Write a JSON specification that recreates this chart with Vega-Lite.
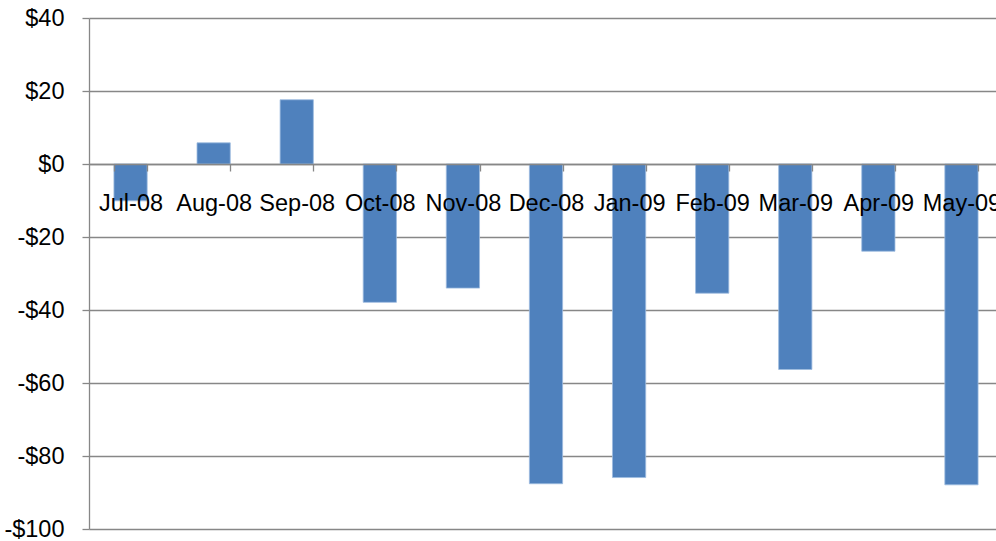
{
  "$schema": "https://vega.github.io/schema/vega-lite/v6.json",
  "autosize": {"type": "none"},
  "padding": {"left": 89, "top": 18, "right": 0, "bottom": 12},
  "width": 907,
  "height": 511,
  "background": "white",
  "data": {
    "values": [
      {"month": "Jul-08", "value": -10.1},
      {"month": "Aug-08", "value": 5.8},
      {"month": "Sep-08", "value": 17.6},
      {"month": "Oct-08", "value": -37.9},
      {"month": "Nov-08", "value": -34.0},
      {"month": "Dec-08", "value": -87.6},
      {"month": "Jan-09", "value": -85.9},
      {"month": "Feb-09", "value": -35.4},
      {"month": "Mar-09", "value": -56.3},
      {"month": "Apr-09", "value": -23.9},
      {"month": "May-09", "value": -87.9}
    ]
  },
  "mark": {"type": "bar", "color": "#4F81BD", "stroke": "#9DBBE0", "strokeWidth": 0.8},
  "encoding": {
    "x": {
      "field": "month",
      "type": "nominal",
      "sort": null,
      "scale": {"range": [0, 914], "paddingInner": 0.6, "paddingOuter": 0.3},
      "axis": {
        "title": null,
        "orient": "bottom",
        "offset": -365,
        "zindex": 1,
        "labelAngle": 0,
        "labelFont": "Liberation Sans",
        "labelFontSize": 23.5,
        "labelColor": "#000000",
        "labelPadding": 20,
        "labelOverlap": false,
        "tickBand": "extent",
        "tickSize": 7,
        "tickColor": "#878787",
        "tickWidth": 1.3,
        "domainColor": "#878787",
        "domainWidth": 1.3
      }
    },
    "y": {
      "field": "value",
      "type": "quantitative",
      "scale": {"domain": [-100, 40], "nice": false, "zero": false},
      "axis": {
        "title": null,
        "values": [-100, -80, -60, -40, -20, 0, 20, 40],
        "labelExpr": "datum.value < 0 ? '-$' + abs(datum.value) : '$' + datum.value",
        "labelFont": "Liberation Sans",
        "labelFontSize": 23.5,
        "labelColor": "#000000",
        "labelPadding": 18,
        "tickSize": 7,
        "tickColor": "#878787",
        "tickWidth": 1.3,
        "domainColor": "#878787",
        "domainWidth": 1.3,
        "grid": true,
        "gridColor": "#878787",
        "gridWidth": 1.3
      }
    }
  },
  "config": {"view": {"stroke": null}}
}
